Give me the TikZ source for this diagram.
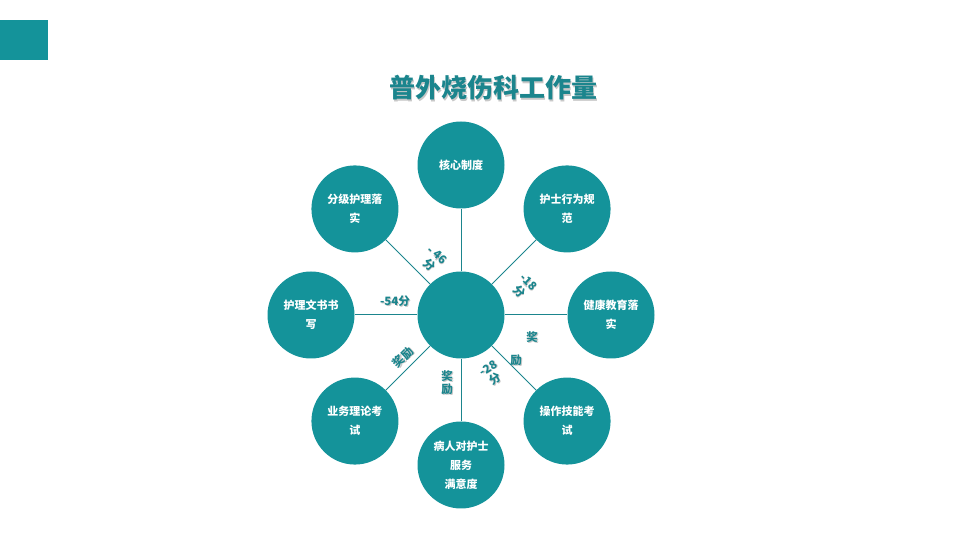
\documentclass[tikz,border=0pt]{standalone}
\usepackage{fontspec}
\setmainfont{Noto Sans CJK SC}
\usetikzlibrary{positioning}

\definecolor{tealfill}{HTML}{14939A}
\definecolor{tealdark}{HTML}{1B858D}
\definecolor{shade}{HTML}{C8C8C8}

% label with a soft grey shadow
\newcommand{\tagtext}[4]{%
  \node[lbl, text=shade, rotate=#3, xshift=1pt, yshift=-1pt] at (#2) {#4};
  \node[lbl, rotate=#3] (#1) at (#2) {#4};}

\begin{document}
\begin{tikzpicture}[x=1pt, y=1pt,
  circ/.style={circle, fill=tealfill, minimum size=87pt, inner sep=0pt,
    text=white, align=center, font=\bfseries\fontsize{11}{19}\selectfont},
  lbl/.style={text=tealdark, align=center, inner sep=0pt,
    font=\bfseries\fontsize{11.5}{13}\selectfont},
  spoke/.style={draw=tealdark, line width=1pt}]
\useasboundingbox (0,0) rectangle (960,540);
\fill[tealfill] (0,480) rectangle (48,520);

% title
\node[text=shade, font=\bfseries\fontsize{26}{30}\selectfont] at (494.5,450.5) {普外烧伤科工作量};
\node[text=tealdark, font=\bfseries\fontsize{26}{30}\selectfont] (title) at (493,452) {普外烧伤科工作量};

% hub and spokes
\node[circ] (hub) at (461,225) {};
\foreach \a/\t [count=\i] in {90/核心制度, 45/{护士行为规\\范}, 0/{健康教育落\\实},
    -45/{操作技能考\\试}, -90/{病人对护士\\服务\\满意度}, -135/{业务理论考\\试},
    180/{护理文书书\\写}, 135/{分级护理落\\实}}
{
  \node[circ] (n\i) at ([shift={(\a:150)}]hub.center) {\t};
  \draw[spoke] (hub) -- (n\i);
}

% scores
\tagtext{m46}{433,280}{-40}{- 46\\分}
\tagtext{m18}{524,253}{-45}{-18\\分}
\tagtext{m54}{395,239}{0}{-54分}
\tagtext{m28}{492,166}{32}{-28\\分}
\tagtext{rwa}{403,183}{45}{奖励}
\tagtext{rwb}{447,157}{0}{奖\\励}
\tagtext{rwc}{532,203}{0}{奖}
\tagtext{rwd}{516,180}{0}{励}
\end{tikzpicture}
\end{document}
